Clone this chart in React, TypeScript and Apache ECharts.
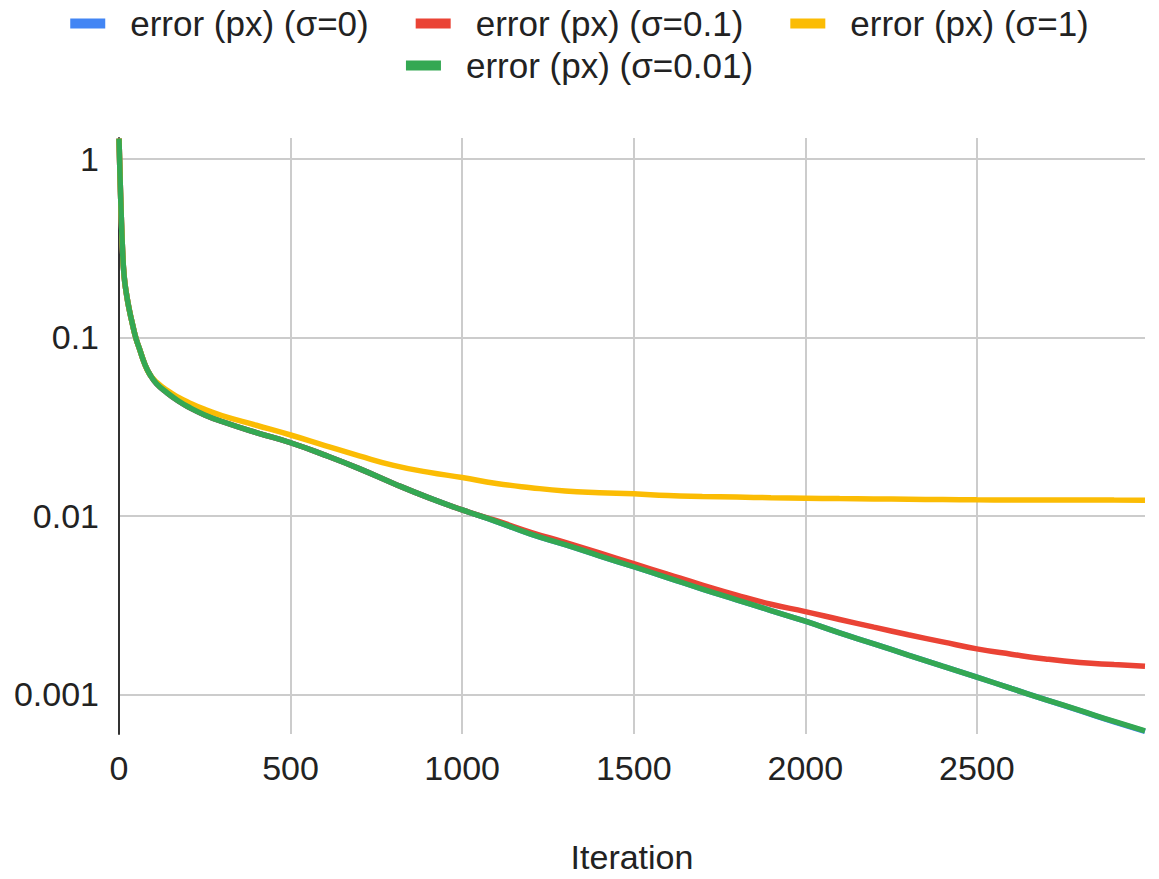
import React, { useEffect, useRef } from "react";
import * as echarts from "echarts";

const iterations = [
  0, 3, 6, 10, 15, 22, 30, 40, 50, 60, 75, 90, 110, 140, 175, 200, 250, 300, 400, 500,
  600, 700, 800, 900, 1000, 1100, 1200, 1300, 1400, 1500, 1600, 1700, 1800, 1900, 2000,
  2100, 2200, 2300, 2400, 2500, 2600, 2700, 2800, 2900, 2990,
];

const errSigma0 = [
  1.3, 0.8, 0.52, 0.32, 0.22, 0.174, 0.143, 0.117, 0.098, 0.086, 0.071, 0.062, 0.055, 0.049, 0.0438, 0.041, 0.0368, 0.0338, 0.0293, 0.0257,
  0.0219, 0.0184, 0.0152, 0.0127, 0.0108, 0.0093, 0.0079, 0.0069, 0.00598, 0.00519, 0.0045, 0.00389, 0.00339, 0.00295, 0.00257,
  0.00221, 0.00192, 0.00166, 0.00144, 0.00125, 0.00108, 0.000935, 0.00081, 0.000702, 0.00062,
];

const errSigma01 = [
  1.3, 0.8, 0.52, 0.32, 0.22, 0.174, 0.143, 0.117, 0.098, 0.086, 0.071, 0.062, 0.055, 0.049, 0.0438, 0.041, 0.0368, 0.0338, 0.0293, 0.0257,
  0.0219, 0.0184, 0.0152, 0.0127, 0.0108, 0.0094, 0.0081, 0.0071, 0.0062, 0.0054, 0.0047, 0.0041, 0.0036, 0.0032, 0.00291,
  0.00263, 0.00238, 0.00216, 0.00197, 0.0018, 0.00168, 0.00158, 0.00151, 0.00147, 0.00144,
];

const errSigma1 = [
  1.3, 0.8, 0.52, 0.32, 0.22, 0.174, 0.143, 0.117, 0.098, 0.086, 0.071, 0.062, 0.056, 0.0505, 0.046, 0.0435, 0.0395, 0.0365, 0.0322, 0.0284,
  0.0248, 0.0217, 0.0192, 0.0176, 0.0164, 0.0152, 0.0144, 0.0138, 0.0135, 0.0133, 0.013, 0.01285, 0.01275, 0.01265, 0.01257,
  0.0125, 0.01245, 0.0124, 0.01235, 0.0123, 0.01229, 0.01228, 0.01227, 0.01226, 0.01225,
];

const errSigma001 = [
  1.3, 0.8, 0.52, 0.32, 0.22, 0.174, 0.143, 0.117, 0.098, 0.086, 0.071, 0.062, 0.055, 0.049, 0.0438, 0.041, 0.0368, 0.0338, 0.0293, 0.0257,
  0.0219, 0.0184, 0.0152, 0.0127, 0.0108, 0.0093, 0.0079, 0.0069, 0.00598, 0.00519, 0.0045, 0.00389, 0.00339, 0.00295, 0.00257,
  0.00221, 0.00192, 0.00166, 0.00144, 0.00125, 0.00108, 0.000936, 0.000813, 0.000705, 0.000625,
];

const seriesNames = [
  "error (px) (σ=0)",
  "error (px) (σ=0.1)",
  "error (px) (σ=1)",
  "error (px) (σ=0.01)",
];
const seriesColors = ["#4285F4", "#EA4335", "#FBBC04", "#34A853"];
const seriesValues = [errSigma0, errSigma01, errSigma1, errSigma001];

const FONT = "'Liberation Sans', Arial, sans-serif";
const TEXT_COLOR = "#222222";

export default function App() {
  const ref = useRef<HTMLDivElement>(null);

  useEffect(() => {
    if (!ref.current) return;
    const chart = echarts.init(ref.current, undefined, { renderer: "svg" });

    const legendCommon = {
      left: "center",
      orient: "horizontal",
      icon: "rect",
      itemWidth: 35,
      itemHeight: 10,
      itemGap: 47,
      textStyle: {
        fontSize: 35,
        color: TEXT_COLOR,
        fontFamily: FONT,
        padding: [0, 0, 0, 20],
      },
    };

    chart.setOption({
      animation: false,
      backgroundColor: "#ffffff",
      textStyle: { fontFamily: FONT },
      legend: [
        { ...legendCommon, top: 1, data: seriesNames.slice(0, 3) },
        { ...legendCommon, top: 43, data: [seriesNames[3]] },
      ],
      grid: {
        left: 119,
        right: 14,
        top: 138,
        bottom: 136,
        containLabel: false,
      },
      xAxis: {
        type: "value",
        min: 0,
        max: 2990,
        interval: 500,
        name: "Iteration",
        nameLocation: "middle",
        nameGap: 106,
        nameTextStyle: { fontSize: 34, color: TEXT_COLOR, fontFamily: FONT },
        axisLine: { show: false },
        axisTick: { show: false },
        axisLabel: {
          fontSize: 34,
          color: TEXT_COLOR,
          fontFamily: FONT,
          margin: 17,
          showMaxLabel: false,
          formatter: (v: number) => String(v),
        },
        splitLine: {
          show: true,
          showMinLine: false,
          showMaxLine: false,
          lineStyle: { color: "#cccccc", width: 2 },
        },
      },
      yAxis: {
        type: "log",
        logBase: 10,
        min: 0.0006,
        max: 1.31,
        axisLine: { show: true, onZero: false, lineStyle: { color: "#333333", width: 2 } },
        axisTick: { show: false },
        axisLabel: {
          fontSize: 34,
          color: TEXT_COLOR,
          fontFamily: FONT,
          margin: 20,
          showMinLabel: false,
          showMaxLabel: false,
          formatter: (v: number) => String(parseFloat(Number(v).toPrecision(6))),
        },
        splitLine: {
          show: true,
          showMinLine: false,
          showMaxLine: false,
          lineStyle: { color: "#cccccc", width: 2 },
        },
      },
      series: seriesNames.map((name, i) => ({
        name,
        type: "line",
        data: iterations.map((it, j) => [it, seriesValues[i][j]]),
        showSymbol: false,
        symbol: "none",
        smooth: 0.5,
        lineStyle: { color: seriesColors[i], width: 5.5 },
        itemStyle: { color: seriesColors[i] },
        z: 2 + i,
      })),
    });

    return () => {
      chart.dispose();
    };
  }, []);

  return (
    <div
      ref={ref}
      style={{ position: "fixed", left: 0, top: 0, width: 1159, height: 879 }}
    />
  );
}
